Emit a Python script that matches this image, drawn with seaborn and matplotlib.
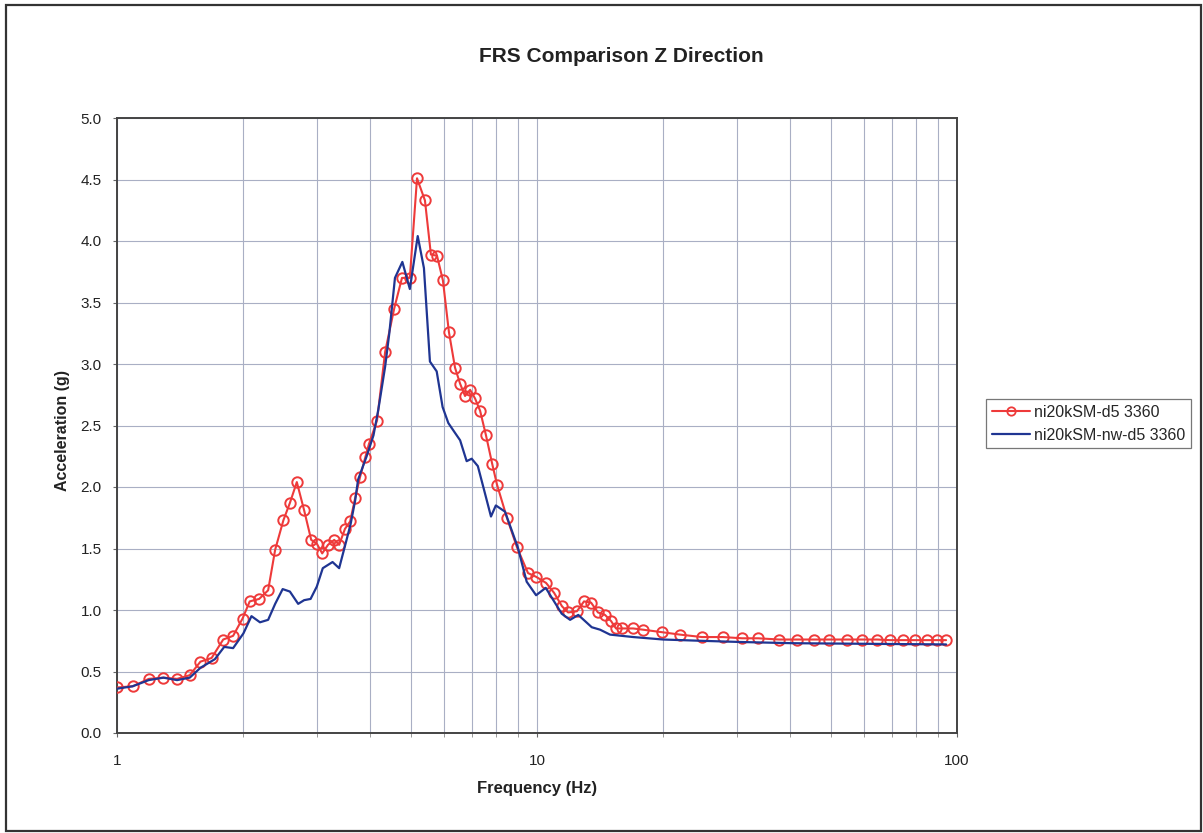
import matplotlib
matplotlib.use("Agg")
import matplotlib.pyplot as plt
import seaborn as sns
import pandas as pd
from matplotlib.ticker import FixedLocator, FixedFormatter, NullFormatter
from matplotlib.lines import Line2D
from matplotlib.patches import Rectangle

# ---------------- data ----------------
red_label = "ni20kSM-d5 3360"
blue_label = "ni20kSM-nw-d5 3360"

red_f = [1.00, 1.09, 1.19, 1.29, 1.39, 1.49, 1.58, 1.68, 1.79, 1.89,
         1.99, 2.07, 2.18, 2.29, 2.38, 2.49, 2.58, 2.68, 2.79, 2.90,
         2.99, 3.08, 3.18, 3.29, 3.38, 3.49, 3.59, 3.69, 3.79, 3.90,
         3.98, 4.16, 4.35, 4.57, 4.77, 4.98, 5.18, 5.41, 5.59, 5.78,
         5.97, 6.17, 6.38, 6.56, 6.74, 6.93, 7.12, 7.32, 7.56, 7.82,
         8.03, 8.48, 8.96, 9.52, 9.95, 10.51, 10.98, 11.47, 11.86, 12.45,
         12.94, 13.45, 13.97, 14.52, 15.01, 15.42, 15.94, 16.93, 17.88, 19.8,
         21.9, 24.7, 27.7, 30.8, 33.6, 37.7, 41.6, 45.7, 49.6, 54.7,
         59.4, 64.5, 69.3, 74.4, 79.5, 84.8, 89.6, 94.2]
red_a = [0.37, 0.38, 0.44, 0.45, 0.44, 0.47, 0.58, 0.61, 0.76, 0.79,
         0.93, 1.07, 1.09, 1.16, 1.49, 1.73, 1.87, 2.04, 1.81, 1.57,
         1.54, 1.46, 1.53, 1.57, 1.53, 1.66, 1.72, 1.91, 2.08, 2.24,
         2.35, 2.54, 3.10, 3.45, 3.70, 3.70, 4.51, 4.33, 3.89, 3.88,
         3.68, 3.26, 2.97, 2.84, 2.74, 2.79, 2.72, 2.62, 2.42, 2.19,
         2.02, 1.75, 1.51, 1.30, 1.27, 1.22, 1.14, 1.03, 0.98, 0.99,
         1.07, 1.06, 0.98, 0.96, 0.91, 0.85, 0.85, 0.85, 0.84, 0.82,
         0.80, 0.78, 0.78, 0.77, 0.77, 0.76, 0.76, 0.76, 0.76, 0.76,
         0.76, 0.76, 0.755, 0.755, 0.755, 0.755, 0.755, 0.755]

blue_f = [1.00, 1.09, 1.19, 1.29, 1.39, 1.49, 1.58, 1.71, 1.80, 1.89,
          2.00, 2.09, 2.19, 2.29, 2.38, 2.48, 2.58, 2.70, 2.79, 2.89,
          2.99, 3.09, 3.26, 3.38, 3.52, 3.60, 3.69, 3.75, 3.93, 4.08,
          4.19, 4.35, 4.45, 4.59, 4.78, 4.98, 5.20, 5.38, 5.56, 5.77,
          5.96, 6.15, 6.38, 6.56, 6.80, 6.99, 7.23, 7.45, 7.77, 7.98,
          8.39, 9.00, 9.45, 9.95, 10.49, 11.45, 11.99, 12.54, 13.50, 14.13,
          14.92, 16.96, 19.98, 24.4, 30.4, 40.7, 62.0, 94.2]
blue_a = [0.36, 0.38, 0.43, 0.45, 0.43, 0.45, 0.53, 0.60, 0.70, 0.69,
          0.81, 0.95, 0.90, 0.92, 1.05, 1.17, 1.15, 1.05, 1.08, 1.09,
          1.19, 1.34, 1.39, 1.34, 1.57, 1.70, 1.89, 2.06, 2.25, 2.42,
          2.63, 2.98, 3.25, 3.70, 3.83, 3.61, 4.04, 3.78, 3.02, 2.94,
          2.65, 2.52, 2.44, 2.38, 2.21, 2.23, 2.17, 2.00, 1.76, 1.85,
          1.80, 1.51, 1.23, 1.12, 1.18, 0.97, 0.92, 0.96, 0.86, 0.84,
          0.80, 0.78, 0.76, 0.75, 0.74, 0.73, 0.725, 0.72]

x_ticks = [1, 10, 100]
x_tick_labels = ["1", "10", "100"]
y_ticks = [0.0, 0.5, 1.0, 1.5, 2.0, 2.5, 3.0, 3.5, 4.0, 4.5, 5.0]
y_tick_labels = ["0.0", "0.5", "1.0", "1.5", "2.0", "2.5", "3.0", "3.5", "4.0", "4.5", "5.0"]

title = "FRS Comparison Z Direction"
x_label = "Frequency (Hz)"
y_label = "Acceleration (g)"

# ---------------- style ----------------
sns.set_theme(style="white")
plt.rcParams["font.family"] = ["Liberation Sans", "DejaVu Sans"]

RED = "#ee3a3a"
BLUE = "#1f3592"
GRID = "#a9afc4"

W, H = 1203, 833
fig = plt.figure(figsize=(W / 100, H / 100), dpi=100)
fig.patch.set_facecolor("white")

L, R, T, B = 117, 957, 118, 733
ax = fig.add_axes([L / W, 1 - B / H, (R - L) / W, (B - T) / H])

df_red = pd.DataFrame({"f": red_f, "a": red_a})
df_blue = pd.DataFrame({"f": blue_f, "a": blue_a})

sns.lineplot(data=df_red, x="f", y="a", ax=ax, color=RED, lw=1.5,
             marker="o", markersize=7.5, markerfacecolor="none",
             markeredgecolor=RED, markeredgewidth=1.4, sort=False, zorder=3)
sns.lineplot(data=df_blue, x="f", y="a", ax=ax, color=BLUE, lw=1.6,
             sort=False, zorder=4)

ax.set_xscale("log")
ax.set_xlim(1, 100)
ax.set_ylim(0, 5)

ax.xaxis.set_major_locator(FixedLocator(x_ticks))
ax.xaxis.set_major_formatter(FixedFormatter(x_tick_labels))
minor = [v * d for d in (1, 10) for v in range(2, 10)]
ax.xaxis.set_minor_locator(FixedLocator(minor))
ax.xaxis.set_minor_formatter(NullFormatter())
ax.yaxis.set_major_locator(FixedLocator(y_ticks))
ax.yaxis.set_major_formatter(FixedFormatter(y_tick_labels))

ax.grid(True, which="major", axis="both", color=GRID, lw=0.8)
ax.grid(True, which="minor", axis="x", color=GRID, lw=0.8)
ax.set_axisbelow(True)

for s in ax.spines.values():
    s.set_visible(True)
    s.set_color("#444444")
    s.set_linewidth(1.4)

ax.tick_params(axis="both", which="major", direction="out", length=3,
               width=0.8, color="#666666", labelsize=11, labelcolor="#222222")
ax.tick_params(axis="x", which="major", pad=12)
ax.tick_params(axis="y", which="major", pad=8)
ax.tick_params(axis="x", which="minor", direction="out", length=3, width=0.6,
               color="#888888", bottom=True)
ax.tick_params(axis="x", which="major", bottom=True)
ax.tick_params(axis="y", which="major", left=True)

ax.set_xlabel("")
ax.set_ylabel("")

fig.text(621 / W, 1 - 57 / H, title, ha="center", va="center",
         fontsize=15, fontweight="bold", color="#222222")
fig.text(537 / W, 1 - 789 / H, x_label, ha="center", va="center",
         fontsize=12, fontweight="bold", color="#222222")
fig.text(62 / W, 1 - 431 / H, y_label, ha="center", va="center",
         rotation=90, fontsize=11.5, fontweight="bold", color="#222222")

handles = [
    Line2D([], [], color=RED, lw=1.5, marker="o", markersize=6,
           markerfacecolor="none", markeredgecolor=RED, markeredgewidth=1.3),
    Line2D([], [], color=BLUE, lw=1.6),
]
leg = fig.legend(handles, [red_label, blue_label], loc="upper left",
                 bbox_to_anchor=(986 / W, 1 - 399 / H), frameon=True,
                 fancybox=False, shadow=False, fontsize=11.5,
                 handlelength=2.4, handletextpad=0.25, borderpad=0.35,
                 borderaxespad=0, labelspacing=0.5)
leg.get_frame().set_edgecolor("#555555")
leg.get_frame().set_linewidth(0.9)

# outer chart border
fig.add_artist(Rectangle((6 / W, 1 - 831 / H), 1195 / W, 826 / H,
                         transform=fig.transFigure, fill=False,
                         edgecolor="#333333", lw=1.6))

fig.savefig("out.png", dpi=100, facecolor="white")
